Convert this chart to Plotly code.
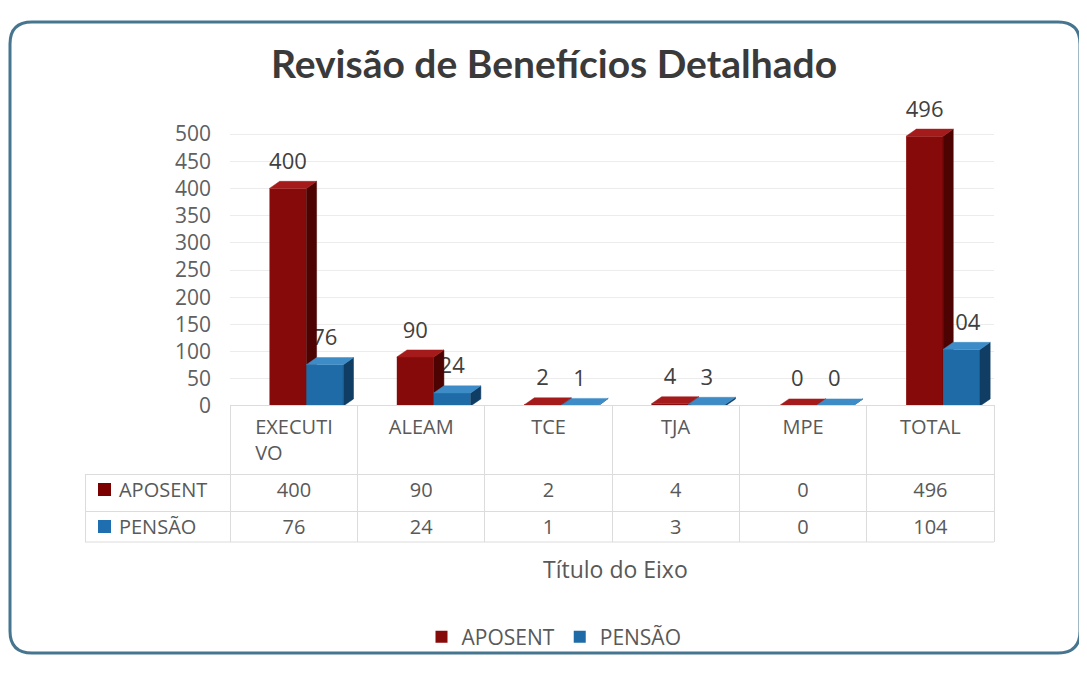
import plotly.graph_objects as go

categories = ["EXECUTIVO", "ALEAM", "TCE", "TJA", "MPE", "TOTAL"]
header_labels = ["EXECUTI<br>VO", "ALEAM", "TCE", "TJA", "MPE", "TOTAL"]
series_names = ["APOSENT", "PENSÃO"]
aposent = [400, 90, 2, 4, 0, 496]
pensao = [76, 24, 1, 3, 0, 104]
y_ticks = [0, 50, 100, 150, 200, 250, 300, 350, 400, 450, 500]

# the page body keeps its default 8px margin, so the figure is 16px smaller
PAGE_W, PAGE_H, BODY = 1087, 680, 8
W, H = PAGE_W - 2 * BODY, PAGE_H - 2 * BODY
FONT = "Open Sans"
TITLE_FONT = "Lato"
GREY = "#595959"

RED = dict(front="#870A0A", side="#4E0303", top="#A51B1B", key="#7B0000")
BLUE = dict(front="#1E6BA7", side="#0F3D63", top="#3D8CC7", key="#1F6EB0")

BAR_W = 0.29
DX, DY = 0.08, 13      # fake 3D depth (category units, value units)
LABEL_UP = 46          # data labels sit this far above the front face
Y_MAX = 580            # room above 500 for the 496 label


def px_x(p):
    return (p - BODY) / W


def px_y(p):
    return 1 - (p - BODY) / H


def faces(values, offset, colors, xa, ya):
    # side and top faces of the pseudo 3D columns, built from the values
    traces = []
    for i, v in enumerate(values):
        x0 = i + offset
        x1 = x0 + BAR_W
        traces.append(go.Scatter(
            x=[x1, x1 + DX, x1 + DX, x1, x1], y=[0, DY, v + DY, v, 0],
            fill="toself", fillcolor=colors["side"], mode="lines",
            line=dict(width=0.5, color=colors["side"]),
            hoverinfo="skip", showlegend=False, xaxis=xa, yaxis=ya))
        traces.append(go.Scatter(
            x=[x0, x0 + DX, x1 + DX, x1, x0], y=[v, v + DY, v + DY, v, v],
            fill="toself", fillcolor=colors["top"], mode="lines",
            line=dict(width=0.5, color=colors["top"]),
            hoverinfo="skip", showlegend=False, xaxis=xa, yaxis=ya))
    return traces


def labels(values, offset, xa, ya):
    return go.Scatter(
        x=[i + offset + BAR_W / 2 for i in range(len(values))],
        y=[v + LABEL_UP for v in values],
        mode="text", text=[str(v) for v in values], textposition="middle center",
        textfont=dict(family=FONT, size=22, color="#404040"),
        hoverinfo="skip", showlegend=False, cliponaxis=False, xaxis=xa, yaxis=ya)


idx = list(range(len(categories)))
red_off, blue_off = -0.19, 0.10

fig = go.Figure()

# layer 1 (bottom): PENSÃO labels, so the red columns hide them like the original
fig.add_trace(labels(pensao, blue_off, "x", "y"))

# layer 2: APOSENT columns
fig.add_trace(go.Bar(x=idx, y=aposent, name=series_names[0], width=BAR_W, offset=red_off,
                     marker=dict(color=RED["front"], line=dict(width=0)),
                     xaxis="x2", yaxis="y2"))
for t in faces(aposent, red_off, RED, "x2", "y2"):
    fig.add_trace(t)

# layer 3 (top): PENSÃO columns in front of the red side faces, and red labels
fig.add_trace(go.Bar(x=idx, y=pensao, name=series_names[1], width=BAR_W, offset=blue_off,
                     marker=dict(color=BLUE["front"], line=dict(width=0)),
                     xaxis="x3", yaxis="y3"))
for t in faces(pensao, blue_off, BLUE, "x3", "y3"):
    fig.add_trace(t)
fig.add_trace(labels(aposent, red_off, "x3", "y3"))

# data table under the chart
line_col = "#DCDCDC"
clear = "rgba(0,0,0,0)"
n = len(categories)
pad = "\u00a0" * 5
# keep every header on two lines so the single words line up with EXECUTI
header_cells = [h if "<br>" in h else h + "<br>\u00a0" for h in header_labels]
TABLE_TOP, HEAD_H, ROW_H = 405, 63, 37
TABLE_BOTTOM = TABLE_TOP + HEAD_H + 2 * ROW_H
TABLE_L, TABLE_R = 85, 994
fig.add_trace(go.Table(
    domain=dict(x=[px_x(TABLE_L), px_x(TABLE_R)], y=[px_y(TABLE_BOTTOM), px_y(TABLE_TOP)]),
    columnwidth=[145] + [127] * n,
    header=dict(values=[""] + header_cells, height=HEAD_H,
                align=["left"] + ["center"] * n,
                fill=dict(color=[clear] + ["white"] * n),
                line=dict(color=[clear] + [line_col] * n, width=1),
                font=dict(family=FONT, size=20, color=GREY)),
    cells=dict(values=[[pad + s for s in series_names]]
               + [[a, p] for a, p in zip(aposent, pensao)],
               height=ROW_H, align=["left"] + ["center"] * n,
               fill=dict(color="white"), line=dict(color=line_col, width=1),
               font=dict(family=FONT, size=20, color=GREY)),
))
# bottom rule of the table (the table's own bottom edge gets clipped)
fig.add_shape(type="line", xref="paper", yref="paper",
              x0=px_x(TABLE_L), x1=px_x(TABLE_R), y0=px_y(TABLE_BOTTOM), y1=px_y(TABLE_BOTTOM),
              line=dict(color=line_col, width=1), layer="above")

# coloured keys in the table's first column
for k, col in enumerate([RED["key"], BLUE["key"]]):
    cy = TABLE_TOP + HEAD_H + ROW_H * (k + 0.5) + 3
    fig.add_shape(type="rect", xref="paper", yref="paper",
                  x0=px_x(98), x1=px_x(111), y0=px_y(cy + 6.5), y1=px_y(cy - 6.5),
                  fillcolor=col, line=dict(width=0), layer="above")

x_dom = [px_x(230), px_x(994)]
y_dom = [px_y(406), px_y(406 - Y_MAX * 272 / 500)]
x_range = [-0.5, n - 0.5]
hidden_x = dict(domain=x_dom, range=x_range, visible=False, fixedrange=True)
hidden_y = dict(domain=y_dom, range=[0, Y_MAX], visible=False, fixedrange=True)

fig.update_layout(
    width=W, height=H,
    margin=dict(l=0, r=0, t=0, b=0, autoexpand=False),
    paper_bgcolor="white", plot_bgcolor="rgba(0,0,0,0)",
    barmode="overlay",
    font=dict(family=FONT, color=GREY),
    title=dict(text="<b>Revisão de Benefícios Detalhado</b>", x=px_x(554), xanchor="center",
               y=px_y(64), yanchor="middle",
               font=dict(family=TITLE_FONT, size=39, color="#3A3A3A")),
    xaxis=dict(domain=x_dom, range=x_range, showticklabels=False, showgrid=False,
               zeroline=False, showline=False, fixedrange=True),
    yaxis=dict(domain=y_dom, range=[0, Y_MAX], tickvals=y_ticks, anchor="free",
               position=px_x(211), showgrid=True, gridcolor="#ECECEC", gridwidth=1,
               zeroline=False, showline=False, ticks="", fixedrange=True,
               tickfont=dict(family=FONT, size=21, color="#606060")),
    xaxis2=dict(hidden_x, overlaying="x", anchor="y2"),
    yaxis2=dict(hidden_y, overlaying="y", anchor="x2"),
    xaxis3=dict(hidden_x, overlaying="x", anchor="y3"),
    yaxis3=dict(hidden_y, overlaying="y", anchor="x3"),
    legend=dict(orientation="h", x=px_x(554), xanchor="center", y=px_y(637),
                yanchor="middle", font=dict(family=FONT, size=21, color=GREY),
                itemwidth=30, bgcolor="rgba(0,0,0,0)"),
    annotations=[dict(text="Título do Eixo", x=px_x(615), y=px_y(569), xref="paper",
                      yref="paper", xanchor="center", yanchor="middle", showarrow=False,
                      font=dict(family=FONT, size=23, color=GREY))],
)

# rounded frame around the chart
x0, x1, y0, y1 = 10, 1080, 22, 653
r = 22
path = (f"M {px_x(x0 + r)},{px_y(y0)} L {px_x(x1 - r)},{px_y(y0)} "
        f"Q {px_x(x1)},{px_y(y0)} {px_x(x1)},{px_y(y0 + r)} "
        f"L {px_x(x1)},{px_y(y1 - r)} Q {px_x(x1)},{px_y(y1)} {px_x(x1 - r)},{px_y(y1)} "
        f"L {px_x(x0 + r)},{px_y(y1)} Q {px_x(x0)},{px_y(y1)} {px_x(x0)},{px_y(y1 - r)} "
        f"L {px_x(x0)},{px_y(y0 + r)} Q {px_x(x0)},{px_y(y0)} {px_x(x0 + r)},{px_y(y0)} Z")
fig.add_shape(type="path", path=path, xref="paper", yref="paper",
              line=dict(color="#46758F", width=3), layer="below")

fig.write_html("out.html")
